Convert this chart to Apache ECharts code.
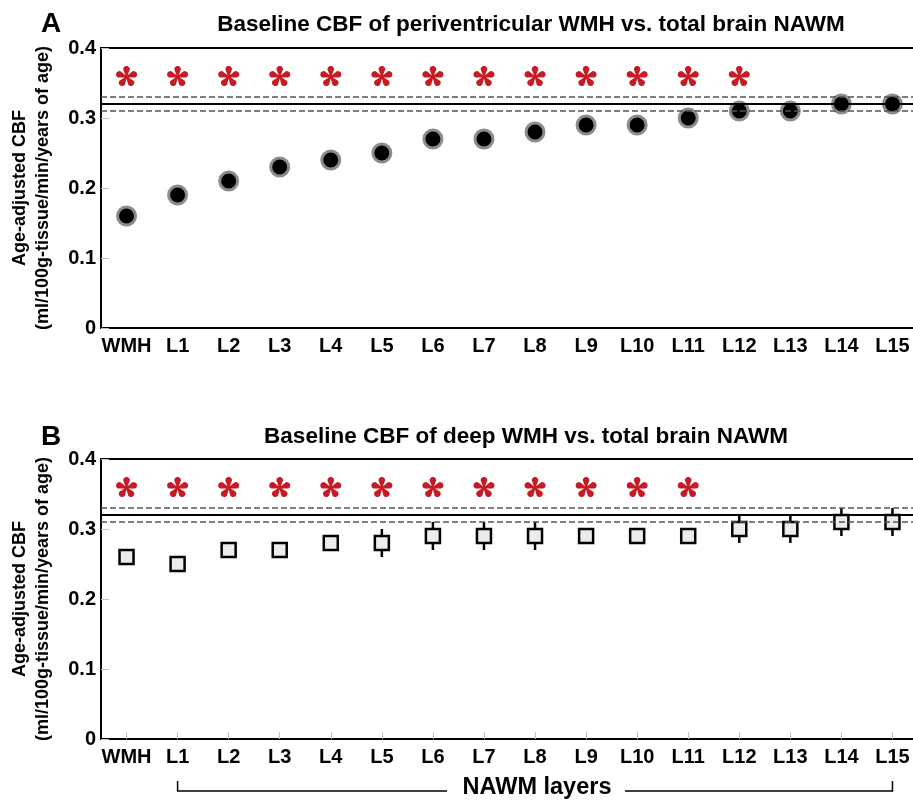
<!DOCTYPE html>
<html><head><meta charset="utf-8">
<script src="https://cdn.jsdelivr.net/npm/echarts@6/dist/echarts.min.js"></script>
<style>html,body{margin:0;padding:0;background:#fff}#c{width:913px;height:800px}</style>
</head><body><div id="c"></div>
<script>
// ---- data ----
const categories = ['WMH','L1','L2','L3','L4','L5','L6','L7','L8','L9','L10','L11','L12','L13','L14','L15'];
const yTicks = [0, 0.1, 0.2, 0.3, 0.4];
const periCBF = [0.16,0.19,0.21,0.23,0.24,0.25,0.27,0.27,0.28,0.29,0.29,0.30,0.31,0.31,0.32,0.32];
const deepCBF = [0.26,0.25,0.27,0.27,0.28,0.28,0.29,0.29,0.29,0.29,0.29,0.29,0.30,0.30,0.31,0.31];
const deepErr = [0.01,0.01,0.01,0.01,0.01,0.02,0.02,0.02,0.02,0.01,0.01,0.01,0.02,0.02,0.02,0.02];
const periSig = [1,1,1,1,1,1,1,1,1,1,1,1,1,0,0,0];
const deepSig = [1,1,1,1,1,1,1,1,1,1,1,1,0,0,0,0];
const starLevel = 0.36;
const nawmMean = 0.32;
const nawmUpper = 0.33;
const nawmLower = 0.31;
const titleA = 'Baseline CBF of periventricular WMH vs. total brain NAWM';
const titleB = 'Baseline CBF of deep WMH vs. total brain NAWM';
const yName = 'Age-adjusted CBF\n(ml/100g-tissue/min/years of age)';
const bracketLabel = 'NAWM layers';

// ---- styling helpers ----
const FONT = '"Liberation Sans", Arial, Helvetica, sans-serif';
const RED = '#c81a24';

function asteriskPath(){
  const R = 10, tipR = 3.1, baseW = 0.45, cy = R - tipR, n = 5;
  let d = '';
  for (let k = 0; k < n; k++) {
    const a = k * 2 * Math.PI / n;
    const rot = (x, y) => [(x*Math.cos(a) - y*Math.sin(a) + 12).toFixed(2), (-(x*Math.sin(a) + y*Math.cos(a)) + 12).toFixed(2)];
    const pts = [[-baseW, 0]];
    for (let i = 0; i <= 12; i++) { const t = Math.PI - i*Math.PI/12; pts.push([tipR*Math.cos(t), cy + tipR*Math.sin(t)]); }
    pts.push([baseW, 0]);
    d += 'M' + pts.map(p => rot(p[0], p[1]).join(' ')).join(' L') + ' Z ';
  }
  return 'path://' + d;
}
const STAR = asteriskPath();

function xAxisCfg(gi, ticks){
  return {
    type: 'category', gridIndex: gi, data: categories, boundaryGap: true,
    axisLine: {show: true, lineStyle: {color: '#000', width: 2}},
    axisTick: {show: ticks, inside: true, alignWithLabel: true, length: 7, lineStyle: {color: '#c4c4c4', width: 1}},
    axisLabel: {color: '#000', fontWeight: 'bold', fontSize: 20, fontFamily: FONT, margin: 8, interval: 0},
    splitLine: {show: false}
  };
}
function yAxisCfg(gi){
  return {
    type: 'value', gridIndex: gi, min: yTicks[0], max: yTicks[yTicks.length-1], interval: 0.1,
    axisLine: {show: true, lineStyle: {color: '#000', width: 2}},
    axisTick: {show: true, inside: true, length: 8, lineStyle: {color: '#c4c4c4', width: 1}},
    axisLabel: {color: '#000', fontWeight: 'bold', fontSize: 20, fontFamily: FONT, margin: 5},
    splitLine: {show: false},
    name: yName, nameLocation: 'middle', nameRotate: 90, nameGap: 46,
    nameTextStyle: {color: '#000', fontWeight: 'bold', fontSize: 18, fontFamily: FONT, lineHeight: 23, align: 'center'}
  };
}
function refLineSeries(gi){
  return {
    type: 'line', xAxisIndex: gi, yAxisIndex: gi, data: [], z: 1, silent: true,
    markLine: {
      silent: true, symbol: 'none', label: {show: false}, animation: false,
      data: [
        {yAxis: nawmMean, lineStyle: {type: 'solid', color: '#000', width: 2}},
        {yAxis: nawmUpper, lineStyle: {type: [6, 3], color: '#555', width: 1.5}},
        {yAxis: nawmLower, lineStyle: {type: [6, 3], color: '#555', width: 1.5}}
      ]
    }
  };
}
function starSeries(gi, sig){
  return {
    type: 'scatter', xAxisIndex: gi, yAxisIndex: gi, z: 3, silent: true,
    symbol: STAR, symbolSize: [21, 20],
    itemStyle: {color: RED, opacity: 1},
    data: categories.map((c, i) => sig[i] ? [i, starLevel] : null).filter(d => d)
  };
}

const chart = echarts.init(document.getElementById('c'), null, {renderer: 'canvas'});
const gridBase = {left: 101, width: 817, height: 280, show: true, borderColor: '#000', borderWidth: 2,
                  backgroundColor: 'transparent', containLabel: false, outerBoundsMode: 'none'};
const option = {
  animation: false,
  backgroundColor: '#fff',
  title: [
    {text: titleA, left: 526, top: 8, textAlign: 'center', textStyle: {fontSize: 22.5, fontWeight: 'bold', color: '#000', fontFamily: FONT}},
    {text: titleB, left: 521, top: 420, textAlign: 'center', textStyle: {fontSize: 22.5, fontWeight: 'bold', color: '#000', fontFamily: FONT}},
    {text: 'A', left: 36, top: 5, textStyle: {fontSize: 28, fontWeight: 'bold', color: '#000', fontFamily: FONT}},
    {text: 'B', left: 36, top: 418, textStyle: {fontSize: 28, fontWeight: 'bold', color: '#000', fontFamily: FONT}}
  ],
  grid: [
    Object.assign({}, gridBase, {top: 48}),
    Object.assign({}, gridBase, {top: 459})
  ],
  xAxis: [xAxisCfg(0, false), xAxisCfg(1, true)],
  yAxis: [yAxisCfg(0), yAxisCfg(1)],
  series: [
    refLineSeries(0),
    refLineSeries(1),
    starSeries(0, periSig),
    starSeries(1, deepSig),
    {
      type: 'scatter', xAxisIndex: 0, yAxisIndex: 0, z: 4, silent: true,
      symbol: 'circle', symbolSize: 18,
      itemStyle: {color: '#000', borderColor: '#8c8c8c', borderWidth: 3, opacity: 1},
      data: periCBF.map((v, i) => [i, v])
    },
    {
      type: 'custom', xAxisIndex: 1, yAxisIndex: 1, z: 3, silent: true,
      data: deepCBF.map((v, i) => [i, v - deepErr[i], v + deepErr[i]]),
      renderItem: function(params, api){
        const lo = api.coord([api.value(0), api.value(1)]);
        const hi = api.coord([api.value(0), api.value(2)]);
        return {type: 'line', shape: {x1: lo[0], y1: lo[1], x2: hi[0], y2: hi[1]}, style: {stroke: '#000', lineWidth: 2.5}};
      }
    },
    {
      type: 'scatter', xAxisIndex: 1, yAxisIndex: 1, z: 4, silent: true,
      symbol: 'rect', symbolSize: 14,
      itemStyle: {color: '#ececec', borderColor: '#000', borderWidth: 2.5, opacity: 1},
      data: deepCBF.map((v, i) => [i, v])
    }
  ]
};
chart.setOption(option);

// bracket under panel B spanning the NAWM layers (L1..L15)
const pL1 = chart.convertToPixel({xAxisIndex: 1, yAxisIndex: 1}, [1, 0]);
const pL15 = chart.convertToPixel({xAxisIndex: 1, yAxisIndex: 1}, [categories.length - 1, 0]);
const yLine = pL1[1] + 52;
const mid = (pL1[0] + pL15[0]) / 2 + 4;
const ls = {stroke: '#000', lineWidth: 1.5};
chart.setOption({
  graphic: [
    {type: 'polyline', silent: true, shape: {points: [[pL1[0], yLine - 10], [pL1[0], yLine], [mid - 92, yLine]]}, style: ls},
    {type: 'polyline', silent: true, shape: {points: [[mid + 86, yLine], [pL15[0], yLine], [pL15[0], yLine - 10]]}, style: ls},
    {type: 'text', silent: true, x: mid - 2, y: yLine - 3, style: {text: bracketLabel, fill: '#000', font: 'bold 23.5px ' + FONT, textAlign: 'center', textVerticalAlign: 'middle'}}
  ]
});
</script>
</body></html>
